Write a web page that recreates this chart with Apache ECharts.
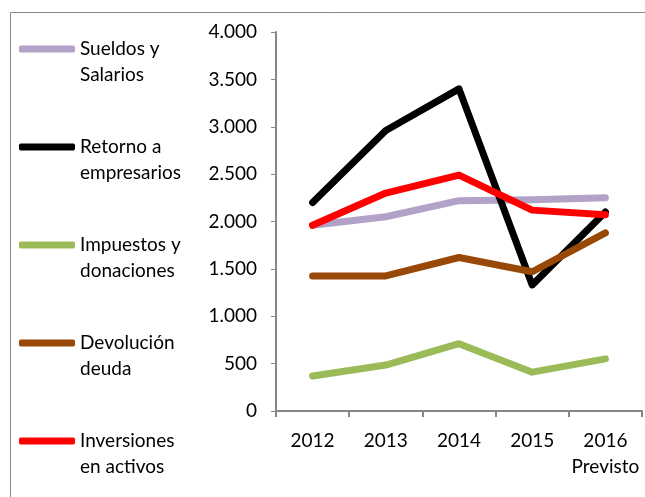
<!DOCTYPE html>
<html>
<head>
<meta charset="utf-8">
<script src="https://cdn.jsdelivr.net/npm/echarts@6/dist/echarts.min.js"></script>
<style>
  html, body { margin: 0; padding: 0; background: #fff; }
  #main { width: 645px; height: 497px; }
</style>
</head>
<body>
<div id="main"></div>
<script>
// data
var years = ['2012', '2013', '2014', '2015', '2016\nPrevisto']
var sueldos = [1960, 2050, 2220, 2230, 2250]
var retorno = [2200, 2960, 3400, 1330, 2100]
var impuestos = [370, 485, 710, 410, 550]
var devolucion = [1425, 1425, 1620, 1470, 1880]
var inversiones = [1960, 2300, 2490, 2120, 2070]

var names = ['Sueldos y\nSalarios', 'Retorno a\nempresarios', 'Impuestos y\ndonaciones', 'Devolución\ndeuda', 'Inversiones\nen activos']
var colors = ['#b3a2c7', '#000000', '#9bbb59', '#984807', '#ff0000']
var values = [sueldos, retorno, impuestos, devolucion, inversiones]

var font = 'Lato'
var fsize = 19
var myChart = echarts.init(document.getElementById('main'))

var series = names.map(function (n, i) {
  return {
    name: n,
    type: 'line',
    data: values[i],
    symbol: 'none',
    color: colors[i],
    lineStyle: { width: 7, color: colors[i], cap: 'round', join: 'round' }
  }
})

var option = {
  animation: false,
  graphic: [{
    type: 'rect',
    shape: { x: 10.5, y: 12.5, width: 700, height: 600 },
    style: { fill: 'none', stroke: '#888888', lineWidth: 1 },
    silent: true
  }],
  legend: {
    orient: 'vertical',
    left: 19,
    top: 10,
    padding: 0,
    icon: 'roundRect',
    itemWidth: 56,
    itemHeight: 7,
    itemGap: 20,
    data: names,
    formatter: function (n) { return '\n' + n },
    textStyle: { fontFamily: font, fontSize: fsize, lineHeight: 26, color: '#000' }
  },
  grid: { left: 276, right: 3, top: 32, bottom: 86 },
  xAxis: {
    type: 'category',
    data: years,
    boundaryGap: true,
    axisLine: { lineStyle: { color: '#868686', width: 2 } },
    axisTick: { show: true, length: 6, lineStyle: { color: '#868686', width: 2 } },
    axisLabel: { interval: 0, margin: 17, fontFamily: font, fontSize: fsize, lineHeight: 26, color: '#000' },
    splitLine: { show: false }
  },
  yAxis: {
    type: 'value',
    min: 0,
    max: 4000,
    interval: 500,
    axisLine: { show: true, lineStyle: { color: '#868686', width: 2 } },
    axisTick: { show: true, length: 5, lineStyle: { color: '#868686', width: 1 } },
    axisLabel: {
      margin: 19, fontFamily: font, fontSize: fsize, color: '#000',
      formatter: function (v) { return String(v).replace(/\B(?=(\d{3})+(?!\d))/g, '.') }
    },
    splitLine: { show: false }
  },
  series: series
}

myChart.setOption(option)
</script>
</body>
</html>
